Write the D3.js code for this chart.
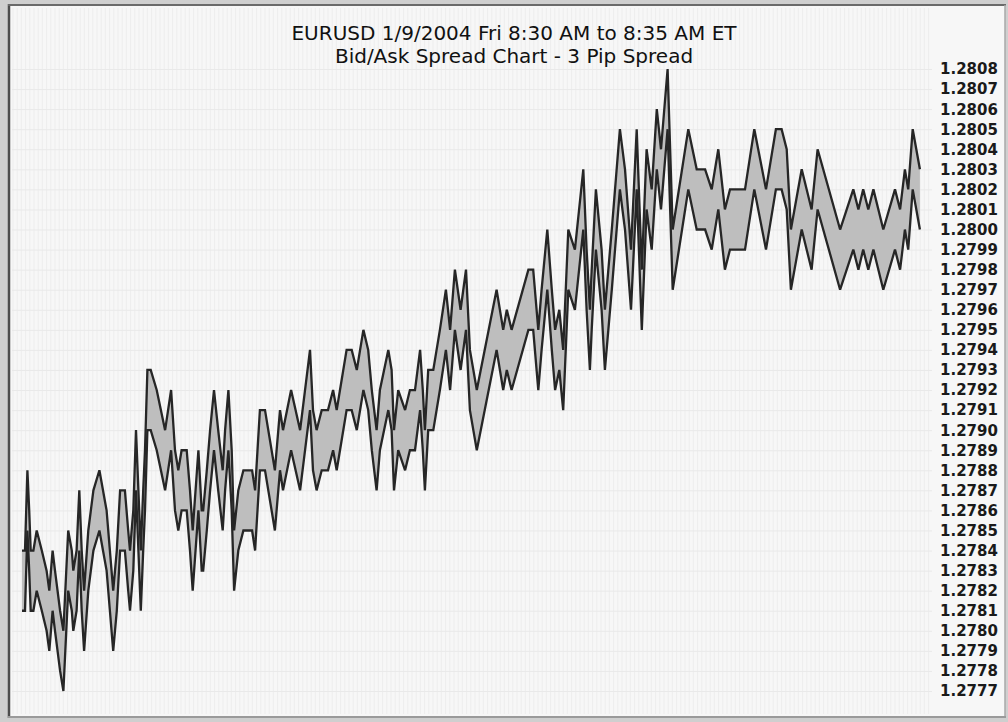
<!DOCTYPE html>
<html>
<head>
<meta charset="utf-8">
<script src="https://cdn.jsdelivr.net/npm/d3@7/dist/d3.min.js"></script>
<style>
  body { margin: 0; background: #ffffff; }
  svg { display: block; }
</style>
</head>
<body>
<svg id="chart" width="1008" height="722"></svg>
<script>
///////////////////////////////////////////
// Data
///////////////////////////////////////////
var titleLines = [
    "EURUSD 1/9/2004 Fri 8:30 AM to 8:35 AM ET",
    "Bid/Ask Spread Chart - 3 Pip Spread"
];

// seconds after 8:30:00
var tickSec = [
    0, 1.0, 1.8, 2.4, 2.9, 3.8, 4.9, 6.6, 8.2, 9.1,
    10.2, 11.0, 12.7, 13.8, 15.4, 16.6, 17.1, 18.2, 19.1, 19.9,
    20.7, 22.1, 23.8, 25.8, 28.2, 29.3, 30.4, 31.6, 32.7, 34.3,
    35.4, 36.0, 37.1, 38.0, 38.8, 39.6, 40.4, 41.0, 41.8, 42.9,
    44.9, 47.7, 49.7, 51.0, 52.1, 53.2, 54.9, 56.0, 56.9, 58.8,
    59.9, 60.4, 61.6, 62.7, 64.0, 65.4, 66.9, 67.7, 68.8, 69.9,
    70.7, 72.1, 73.8, 76.7, 77.7, 79.3, 81.0, 84.3, 86.0, 87.0,
    89.7, 92.7, 96.0, 97.0, 98.2, 99.9, 102.0, 103.7, 104.9, 106.0,
    108.2, 109.9, 111.6, 113.8, 115.4, 116.6, 118.2, 119.3, 122.1, 123.2,
    124.0, 125.4, 127.7, 129.3, 131.0, 132.7, 133.6, 134.3, 135.4, 137.1,
    139.3, 141.3, 142.7, 144.3, 146.2, 148.0, 149.3, 151.6, 158.2, 160.4,
    161.6, 163.2, 168.8, 170.4, 172.1, 173.2, 175.1, 176.6, 177.7, 179.1,
    180.4, 182.1, 184.3, 187.1, 188.2, 189.3, 189.9, 191.3, 193.2, 194.3,
    196.6, 199.3, 201.0, 203.0, 204.9, 206.6, 208.2, 209.9, 211.6, 213.0,
    215.2, 216.9, 222.1, 224.9, 227.7,
    229.9, 232.1, 234.3, 236.0, 241.0, 244.1, 248.0, 251.3, 253.2, 254.9,
    256.3, 259.9, 263.2, 265.2, 272.7, 277.1, 278.8, 280.4, 282.1, 283.8,
    287.1, 291.0, 292.7, 294.3, 295.4, 296.9, 299.3
];

// ask quotes (upper line)
var askPrice = [
    1.2784, 1.2784, 1.2788, 1.2786, 1.2784, 1.2784, 1.2785, 1.2784, 1.2783, 1.2782,
    1.2784, 1.2783, 1.2781, 1.2780, 1.2785, 1.2784, 1.2783, 1.2784, 1.2787, 1.2784,
    1.2782, 1.2785, 1.2787, 1.2788, 1.2786, 1.2784, 1.2782, 1.2784, 1.2787, 1.2787,
    1.2785, 1.2784, 1.2786, 1.2790, 1.2787, 1.2784, 1.2787, 1.2789, 1.2793, 1.2793,
    1.2792, 1.2790, 1.2792, 1.2789, 1.2788, 1.2789, 1.2789, 1.2787, 1.2785, 1.2789,
    1.2786, 1.2786, 1.2788, 1.2790, 1.2792, 1.2790, 1.2788, 1.2790, 1.2792, 1.2789,
    1.2785, 1.2787, 1.2788, 1.2788, 1.2787, 1.2791, 1.2791, 1.2788, 1.2791, 1.2790,
    1.2792, 1.2790, 1.2794, 1.2791, 1.2790, 1.2791, 1.2791, 1.2792, 1.2791, 1.2792,
    1.2794, 1.2794, 1.2793, 1.2795, 1.2794, 1.2792, 1.2790, 1.2792, 1.2794, 1.2793,
    1.2790, 1.2792, 1.2791, 1.2792, 1.2792, 1.2794, 1.2792, 1.2790, 1.2793, 1.2793,
    1.2795, 1.2797, 1.2795, 1.2798, 1.2796, 1.2798, 1.2794, 1.2792, 1.2797, 1.2795,
    1.2796, 1.2795, 1.2798, 1.2798, 1.2795, 1.2797, 1.2800, 1.2797, 1.2795, 1.2796,
    1.2794, 1.2800, 1.2799, 1.2803, 1.2799, 1.2796, 1.2798, 1.2802, 1.2799, 1.2796,
    1.2800, 1.2805, 1.2803, 1.2799, 1.2805, 1.2798, 1.2804, 1.2802, 1.2806, 1.2804,
    1.2808, 1.2800, 1.2805, 1.2803, 1.2803,
    1.2802, 1.2804, 1.2801, 1.2802, 1.2802, 1.2805, 1.2802, 1.2805, 1.2805, 1.2804,
    1.2800, 1.2803, 1.2801, 1.2804, 1.2800, 1.2802, 1.2801, 1.2802, 1.2801, 1.2802,
    1.2800, 1.2802, 1.2801, 1.2803, 1.2802, 1.2805, 1.2803
];

var spreadPips = 3;     // bid sits 3 pips under the ask
var pip = 0.0001;

var priceLabels = [
    "1.2808", "1.2807", "1.2806", "1.2805", "1.2804", "1.2803", "1.2802", "1.2801",
    "1.2800", "1.2799", "1.2798", "1.2797", "1.2796", "1.2795", "1.2794", "1.2793",
    "1.2792", "1.2791", "1.2790", "1.2789", "1.2788", "1.2787", "1.2786", "1.2785",
    "1.2784", "1.2783", "1.2782", "1.2781", "1.2780", "1.2779", "1.2778", "1.2777"
];

///////////////////////////////////////////
// Chart
///////////////////////////////////////////
var svg = d3.select("#chart");

var quotes = tickSec.map(function(t, i) {
    return { t: t, ask: askPrice[i], bid: askPrice[i] - spreadPips * pip };
});

var x = d3.scaleLinear().domain([0, 300]).range([22, 922]);
var y = d3.scaleLinear().domain([1.2777, 1.2808]).range([691, 69]);

// frame
svg.append("rect")
    .attr("width", 1008).attr("height", 722)
    .attr("fill", "#cfcfcf");

svg.append("rect")
    .attr("x", 9).attr("y", 5)
    .attr("width", 996).attr("height", 712)
    .attr("fill", "#f7f7f7");

// faint grid
var grid = svg.append("g").attr("class", "grid");

grid.selectAll("line.v")
    .data(d3.range(-3, 303, 1.4))
    .enter().append("line")
    .attr("class", "v")
    .attr("x1", function(d) { return x(d); })
    .attr("x2", function(d) { return x(d); })
    .attr("y1", 8).attr("y2", 714)
    .attr("stroke", "#ededed")
    .attr("stroke-width", 1);

grid.selectAll("line.h")
    .data(priceLabels)
    .enter().append("line")
    .attr("class", "h")
    .attr("x1", 12).attr("x2", 932)
    .attr("y1", function(d) { return y(+d) + 0.5; })
    .attr("y2", function(d) { return y(+d) + 0.5; })
    .attr("stroke", "#e9e9e9")
    .attr("stroke-width", 1);

// border lines
svg.append("line").attr("x1", 9).attr("x2", 9).attr("y1", 4).attr("y2", 718)
    .attr("stroke", "#4d4d4d").attr("stroke-width", 2.5);
svg.append("line").attr("x1", 8).attr("x2", 1006).attr("y1", 5).attr("y2", 5)
    .attr("stroke", "#6a6a6a").attr("stroke-width", 2);
svg.append("line").attr("x1", 1005).attr("x2", 1005).attr("y1", 5).attr("y2", 718)
    .attr("stroke", "#a8a8a8").attr("stroke-width", 1.5);
svg.append("line").attr("x1", 8).attr("x2", 1006).attr("y1", 717).attr("y2", 717)
    .attr("stroke", "#9a9a9a").attr("stroke-width", 2);

// spread band
var band = d3.area()
    .x(function(d) { return x(d.t); })
    .y0(function(d) { return y(d.bid); })
    .y1(function(d) { return y(d.ask); });

var askLine = d3.line()
    .x(function(d) { return x(d.t); })
    .y(function(d) { return y(d.ask); });

var bidLine = d3.line()
    .x(function(d) { return x(d.t); })
    .y(function(d) { return y(d.bid); });

svg.append("path")
    .datum(quotes)
    .attr("d", band)
    .attr("fill", "#bebebe");

[askLine, bidLine].forEach(function(gen) {
    svg.append("path")
        .datum(quotes)
        .attr("d", gen)
        .attr("fill", "none")
        .attr("stroke", "#262626")
        .attr("stroke-width", 2.3)
        .attr("stroke-linejoin", "miter")
        .attr("stroke-miterlimit", 3);
});

// price labels on the right
svg.append("g")
    .selectAll("text")
    .data(priceLabels)
    .enter().append("text")
    .attr("x", 940)
    .attr("y", function(d) { return y(+d); })
    .attr("dy", "0.36em")
    .attr("font-family", "'DejaVu Sans', Verdana, sans-serif")
    .attr("font-weight", "bold")
    .attr("font-size", 15)
    .attr("fill", "#1a1a1a")
    .text(function(d) { return d; });

// title
svg.append("g")
    .selectAll("text")
    .data(titleLines)
    .enter().append("text")
    .attr("x", 514)
    .attr("y", function(d, i) { return 39.5 + i * 23; })
    .attr("text-anchor", "middle")
    .attr("font-family", "'DejaVu Sans', Verdana, sans-serif")
    .attr("font-size", 20)
    .attr("fill", "#111111")
    .text(function(d) { return d; });
</script>
</body>
</html>
